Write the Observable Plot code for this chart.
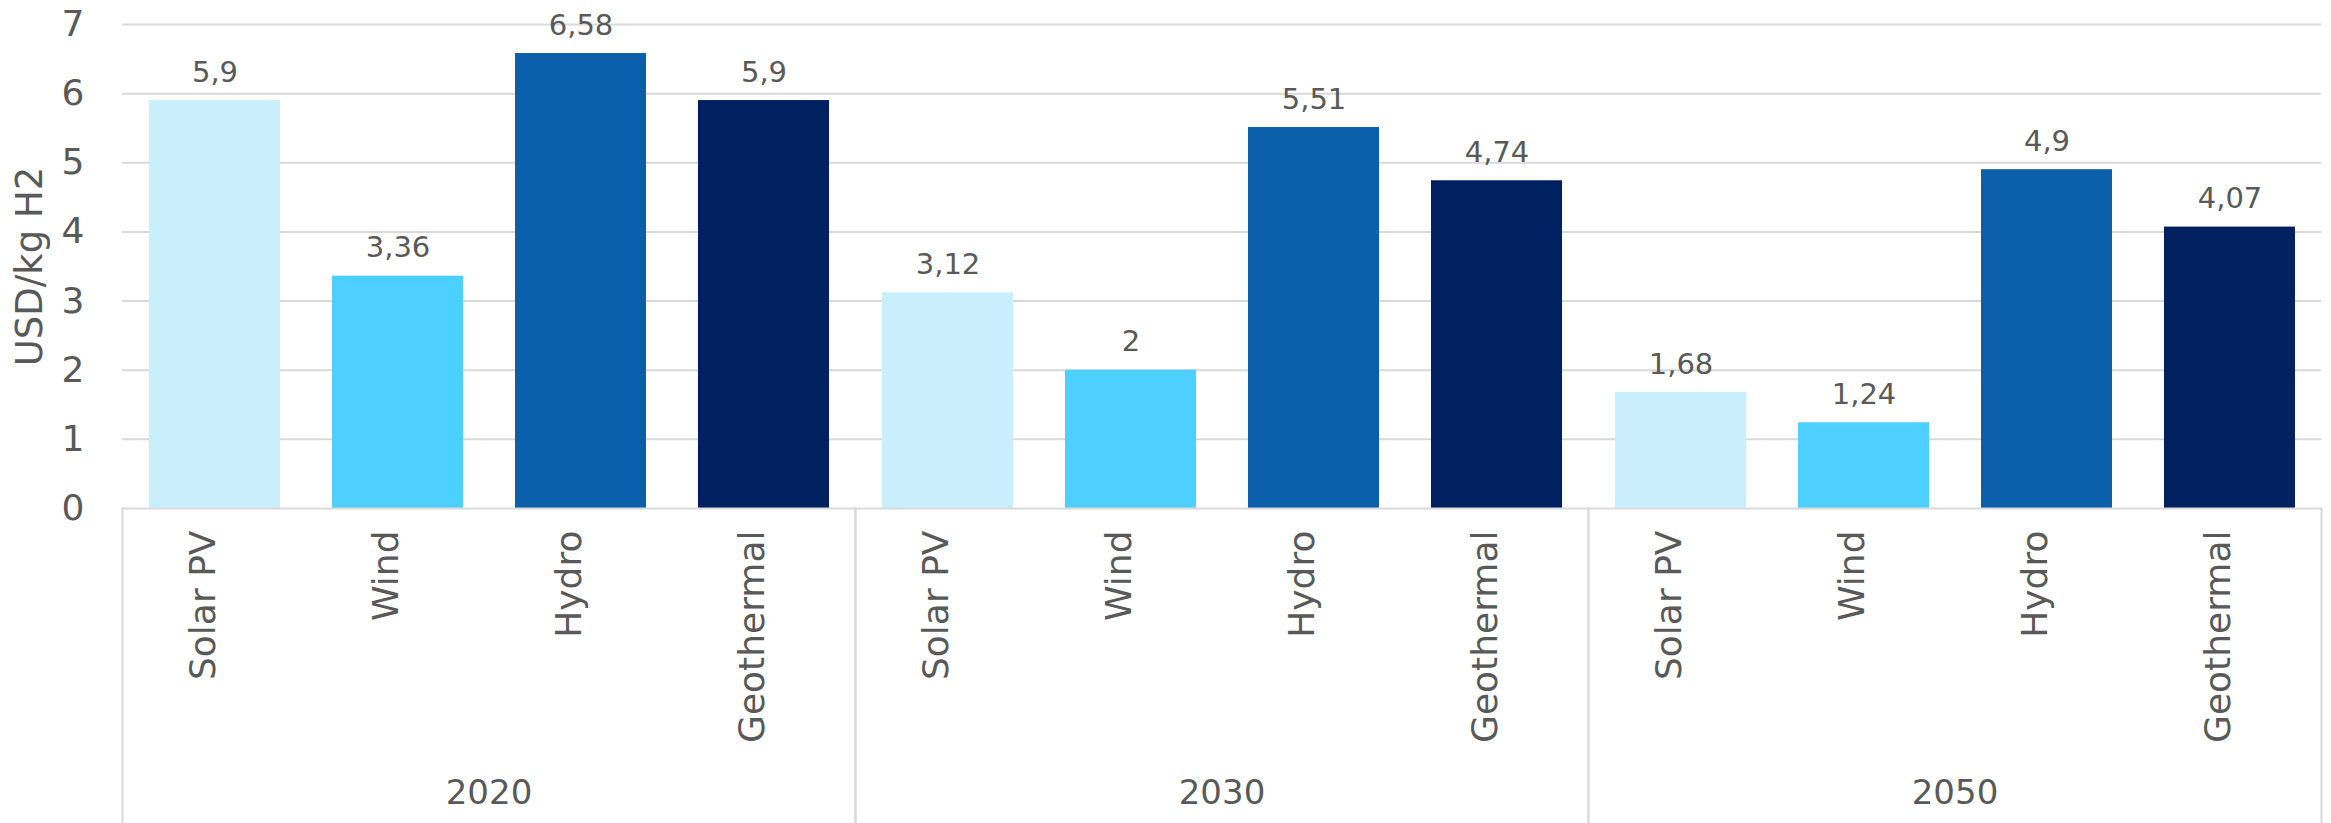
<!DOCTYPE html>
<html>
<head>
<meta charset="utf-8">
<script src="https://cdn.jsdelivr.net/npm/d3@7"></script>
<script src="https://cdn.jsdelivr.net/npm/@observablehq/plot@0.6"></script>
<style>
  html, body { margin: 0; padding: 0; background: #fff; }
  #chart { width: 2331px; height: 823px; }
</style>
</head>
<body>
<div id="chart"></div>
<script>
const years = ["2020", "2030", "2050"];
const technologies = ["Solar PV", "Wind", "Hydro", "Geothermal"];
const values2020 = [5.9, 3.36, 6.58, 5.9];
const values2030 = [3.12, 2, 5.51, 4.74];
const values2050 = [1.68, 1.24, 4.9, 4.07];
const colors = ["#C9EFFD", "#4DD0FF", "#0B5FAA", "#012060"];
const yTicks = [0, 1, 2, 3, 4, 5, 6, 7];
const yLabel = "USD/kg H2";

const seriesByYear = [values2020, values2030, values2050];
const data = years.flatMap((year, i) =>
  technologies.map((tech, j) => ({year, tech, value: seriesByYear[i][j]}))
);

const fmt = v => String(v).replace(".", ",");
const grey = "#D9D9D9";
const textColor = "#595959";

const chart = Plot.plot({
  width: 2331,
  height: 823,
  marginLeft: 121,
  marginRight: 9,
  marginTop: 24,
  marginBottom: 315,
  style: {fontFamily: "'DejaVu Sans', sans-serif", color: textColor, background: "#fff"},
  fx: {domain: years, padding: 0, axis: null},
  x: {domain: technologies, paddingInner: 0.285, paddingOuter: 0.1425, axis: null},
  y: {domain: [0, 7], ticks: yTicks},
  color: {domain: technologies, range: colors},
  marks: [
    Plot.gridY(yTicks.filter(t => t > 0), {stroke: grey, strokeOpacity: 1, strokeWidth: 2}),
    Plot.axisY({
      ticks: yTicks, tickFormat: d => String(d), tickSize: 0, tickPadding: 38, fontSize: 36,
      label: null
    }),
    Plot.text([yLabel], {
      fx: () => years[0], text: d => d, frameAnchor: "left", rotate: -90, dx: -92,
      textAnchor: "middle", lineAnchor: "middle", fontSize: 37, fill: textColor
    }),
    Plot.barY(data, {fx: "year", x: "tech", y: "value", fill: "tech"}),
    Plot.ruleY([0], {stroke: grey, strokeWidth: 2}),
    Plot.frame({anchor: "left", stroke: grey, strokeWidth: 2, insetTop: 484, insetBottom: -320}),
    Plot.frame({anchor: "right", stroke: grey, strokeWidth: 2, insetTop: 484, insetBottom: -320}),
    Plot.text(data, {
      fx: "year", x: "tech", y: "value", text: d => fmt(d.value),
      dy: -28, fontSize: 29, fill: textColor
    }),
    Plot.text(data, {
      fx: "year", x: "tech", text: "tech", frameAnchor: "bottom",
      rotate: -90, textAnchor: "end", dy: 22, fontSize: 36, fill: textColor
    }),
    Plot.text(years, {
      fx: d => d, text: d => d, frameAnchor: "bottom", dy: 295, fontSize: 34, fill: textColor
    })
  ]
});

document.getElementById("chart").appendChild(chart);
</script>
</body>
</html>
